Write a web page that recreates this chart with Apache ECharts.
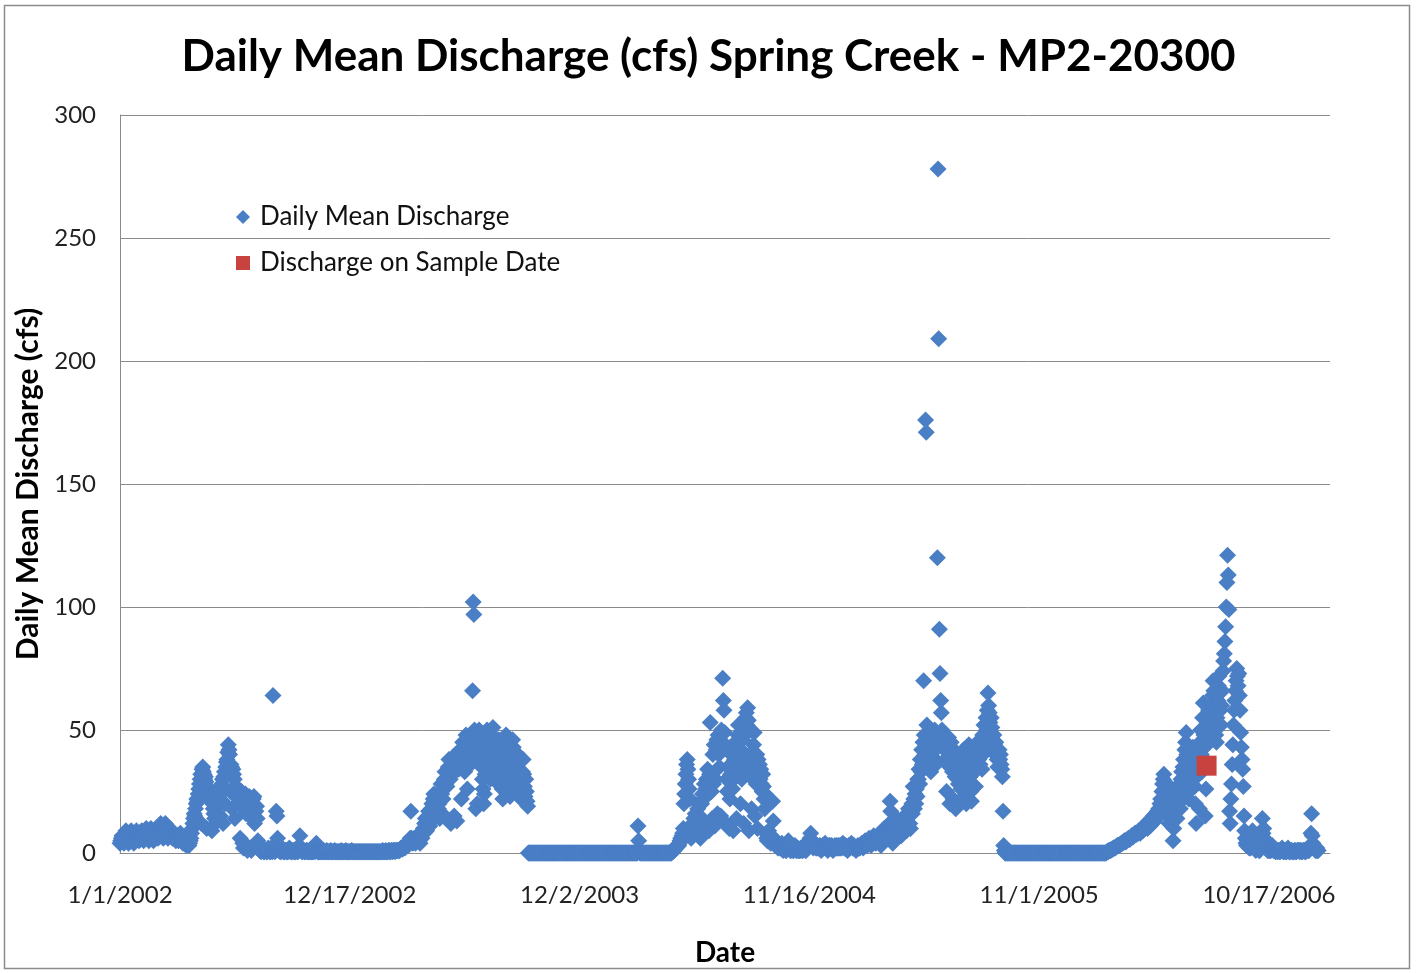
<!DOCTYPE html>
<html>
<head>
<meta charset="utf-8">
<script src="https://cdn.jsdelivr.net/npm/echarts@6/dist/echarts.min.js"></script>
<style>
html,body{margin:0;padding:0;background:#fff;}
#chart{width:1417px;height:973px;}
</style>
</head>
<body>
<div id="chart"></div>
<script>
// ---------- DATA (daily mean discharge, cfs; one inner array per month) ----------
const flow2002 = [
 [4,5,6,7,6,5,4,6,8,9,8,7,5,4,5,7,8,9,8,6,5,4,5,7,8,9,8,7,6,5,6],
 [7,8,9,8,6,5,6,8,9,10,9,7,6,5,7,9,10,9,8,6,5,6,8,9,10,9,7,6],
 [8,10,11,12,11,9,7,6,8,10,12,11,9,7,6,7,9,10,9,8,7,6,7,8,7,6,5,6,7,6,5],
 [6,7,8,7,6,5,4,5,6,5,4,3,4,5,4,3,4,5,6,8,10,12,14,16,15,18,20,22,21,24],
 [26,28,30,32,12,34,35,33,32,30,31,29,10,27,26,25,24,22,23,21,9,20,18,16,14,12,18,20,19,21,23],
 [22,24,15,27,28,30,12,31,33,20,35,37,38,41,44,42,40,25,36,35,18,34,32,30,14,26,27,20,24,22],
 [24,20,6,22,25,18,4,2,20,22,24,16,3,1,19,21,23,15,2,1,18,20,22,23,12,3,17,19,14,5,2],
 [2,1,1,0.5,1,2,1,0.5,0.5,1,1,0.5,0.5,1,2,1,0.5,0.5,1,1,0.5,64,3,1,0.5,2,17,15,6,2,1],
 [1,0.5,0.5,1,2,1,0.5,0.5,0.5,1,1,0.5,0.5,0.5,1,2,1,0.5,0.5,0.5,1,1,0.5,0.5,0.5,1,1,0.5,0.5,1],
 [3,7,2,1,0.5,0.5,1,1,0.5,0.5,0.5,1,1,0.5,0.5,0.5,0.5,1,0.5,0.5,0.5,0.5,1,1,0.5,2,4,1,0.5,0.5,0.5],
 [0.5,0.5,1,0.5,0.5,0.5,1,0.5,0.5,0.5,0.5,1,0.5,0.5,0.5,0.5,0.5,1,0.5,0.5,0.5,0.5,0.5,1,0.5,0.5,0.5,0.5,0.5,0.5],
 [0.5,0.5,0.5,1,0.5,0.5,0.5,0.5,0.5,0.5,1,0.5,0.5,0.5,0.5,0.5,0.5,0.5,0.5,1,0.5,0.5,0.5,0.5,0.5,0.5,0.5,0.5,0.5,0.5,0.5]
];
const flow2003 = [
 [0.5,0.5,0.5,0.5,0.5,0.5,0.5,0.5,0.5,0.5,0.5,0.5,0.5,0.5,0.5,0.5,0.5,0.5,0.5,0.5,0.5,0.5,0.5,0.5,0.5,0.5,0.5,0.5,0.5,0.5,0.5],
 [0.5,0.5,0.5,0.5,1,0.5,0.5,0.5,0.5,1,0.5,0.5,0.5,1,1,0.5,0.5,1,1,0.5,1,1,1,0.5,1,1,1,1],
 [1,1,1,1.5,2,2,1.5,2,2.5,3,2,2.5,3,3.5,4,3,4,5,6,17,6,5,4,5,6,5,4,5,6,7,6],
 [5,6,4,7,8,6,9,10,8,12,14,10,9,13,15,17,12,11,16,18,20,17,22,24,21,19,18,22,20,17],
 [18,20,14,25,28,24,16,22,26,30,33,28,14,27,31,35,38,34,30,12,32,36,39,35,15,33,37,34,13,35,38],
 [34,38,42,36,22,40,45,41,37,33,44,48,43,26,35,40,46,42,38,44,48,66,102,97,50,45,18,38,20,47],
 [45,50,48,42,38,35,30,26,20,24,32,40,46,50,47,43,38,34,30,36,42,48,51,46,41,37,33,29,35,40,44],
 [46,42,38,34,30,26,22,28,34,40,45,48,44,39,35,31,27,23,29,35,41,46,43,38,33,29,25,30,36,40,37],
 [34,30,26,22,28,33,38,32,27,23,30,25,21,19,0,0,0,0,0,0,0,0,0,0,0,0,0,0,0,0],
 [0,0,0,0,0,0,0,0,0,0,0,0,0,0,0,0,0,0,0,0,0,0,0,0,0,0,0,0,0,0,0],
 [0,0,0,0,0,0,0,0,0,0,0,0,0,0,0,0,0,0,0,0,0,0,0,0,0,0,0,0,0,0],
 [0,0,0,0,0,0,0,0,0,0,0,0,0,0,0,0,0,0,0,0,0,0,0,0,0,0,0,0,0,0,0]
];
const flow2004 = [
 [0,0,0,0,0,0,0,0,0,0,0,0,0,0,0,0,0,0,0,0,0,0,0,0,0,0,0,0,0,0,0],
 [0,0,0,0,0,0,0,0,0,0,0,0,0,0,0,0,0,0,0,0,0,0,0,0,0,0,0,0,11],
 [5,1,0,0,0,0,0,0,0,0,0,0,0,0,0,0,0,0,0,0,0,0,0,0,0,0,0,0,0,0,0],
 [0,0,0,0,0,0,0,0,0,0,0,0,0,0,0,0,0,0,0,0,0.5,0.5,1,1,1.5,2,2,3,2.5,3],
 [3,4,5,6,5,7,8,10,20,24,28,32,36,38,34,30,26,22,8,6,10,12,9,14,11,16,13,10,15,18,20],
 [12,15,6,14,20,24,8,22,28,10,26,30,12,34,28,9,32,53,30,25,14,40,28,44,11,30,42,46,16,48],
 [40,35,45,15,50,42,71,62,58,49,44,12,30,25,35,42,10,22,32,40,36,26,9,30,38,45,34,14,40,48,52],
 [45,38,20,42,30,46,53,12,35,48,55,57,52,59,54,9,40,33,50,18,38,30,44,49,15,36,28,40,10,38,32],
 [36,30,34,28,25,32,27,22,18,24,8,6,5,7,9,6,5,4,6,5,21,13,6,4,3,5,4,3,2,3],
 [3,2,2,3,4,2,1,2,3,2,1,1,2,3,5,3,2,1,1,2,2,1,1,2,3,2,1,1,2,1,1],
 [1,1,2,2,1,1,2,3,2,1,1,2,3,4,3,5,6,8,5,4,3,2,3,4,3,2,2,3,2,2],
 [2,3,2,1,2,3,2,2,3,4,3,2,2,1,2,3,3,2,2,3,2,1,2,2,3,2,2,3,2,2,3]
];
const flow2005 = [
 [2,3,2,2,3,4,3,2,2,3,2,2,1,2,3,2,2,3,4,3,2,2,3,2,2,1,2,2,3,2,2],
 [2,3,3,4,3,2,3,4,5,4,3,3,4,5,6,5,4,3,4,5,6,7,6,5,4,5,6,7],
 [6,7,8,6,3,7,9,8,7,10,9,8,7,9,11,10,8,12,21,17,10,9,4,11,13,10,9,12,14,12,11],
 [8,10,12,9,7,11,14,12,10,15,13,11,9,14,16,18,15,12,10,17,20,16,27,22,18,24,20,26,23,30],
 [30,34,28,38,33,42,36,45,70,48,40,176,171,52,46,40,36,44,38,33,42,47,39,35,44,50,42,37,46,120,278],
 [209,91,73,62,57,50,46,44,48,42,38,45,25,36,43,47,39,20,41,45,38,33,22,42,37,31,18,40,34,30],
 [28,35,40,32,26,22,30,38,42,36,29,24,20,27,34,39,44,37,31,25,21,28,35,41,38,33,27,36,42,45,40],
 [38,42,36,45,40,34,48,44,52,47,41,55,50,58,65,60,57,53,49,55,51,46,43,48,44,40,45,42,38,35,40],
 [42,38,40,36,34,31,17,3,1,0,0,0,0,0,0,0,0,0,0,0,0,0,0,0,0,0,0,0,0,0],
 [0,0,0,0,0,0,0,0,0,0,0,0,0,0,0,0,0,0,0,0,0,0,0,0,0,0,0,0,0,0,0],
 [0,0,0,0,0,0,0,0,0,0,0,0,0,0,0,0,0,0,0,0,0,0,0,0,0,0,0,0,0,0],
 [0,0,0,0,0,0,0,0,0,0,0,0,0,0,0,0,0,0,0,0,0,0,0,0,0,0,0,0,0,0,0]
];
const flow2006 = [
 [0,0,0,0,0,0,0,0,0,0,0,0,0,0,0,0,0,0,0,0,0,0,0,0,0,0,0,0,0,0,0],
 [0,0,0,0,0,0,0,0,0,0,0,0.5,0.5,0.5,1,1,1,1,1.5,1.5,1.5,2,2,2,2,2.5,2.5,3],
 [3,3,3,3.5,3.5,4,4,4,4.5,4.5,5,5,4.5,5,5.5,5.5,6,6,5.5,6,6.5,7,7,6.5,7,7.5,8,8,7.5,8,8.5],
 [8,9,9,8,9,10,10,9,10,11,10,11,12,11,10,12,13,12,11,13,14,12,13,15,14,13,16,15,14,17],
 [16,18,15,20,22,19,25,28,30,32,26,22,18,24,28,20,15,12,18,22,26,20,14,5,10,16,22,25,19,14,18],
 [20,24,28,18,30,33,25,35,38,30,42,45,49,40,34,28,22,36,40,32,26,38,43,35,30,27,20,12,34,38],
 [42,36,18,45,50,40,33,55,61,48,38,15,26,35.5,44,52,58,55,50,47,54,60,64,70,66,58,52,48,45,55,62],
 [68,72,65,58,52,60,66,74,78,81,86,92,100,110,121,113,99,17,12,22,28,36,44,52,58,62,66,70,75,72,68],
 [73,64,58,49,43,38,34,27,15,9,6,4,3,5,4,3,2,3,2,4,6,9,5,3,2,2,1,2,3,2],
 [2,1,1,2,3,5,14,8,10,6,4,3,2,2,1,1,2,1,1,1,2,3,2,1,1,1,0.5,1,1,0.5,1],
 [1,0.5,0.5,1,1,2,1,0.5,0.5,1,1,0.5,0.5,1,2,1,0.5,0.5,0.5,1,1,0.5,0.5,0.5,1,1,0.5,0.5,1,1],
 [1,1,0.5,1,1,0.5,0.5,1,1,1,0.5,0.5,1,1,2,1,1,2,3,8,16,7,4,3,2,2,1,1,2,1,1]
];
const flowYears = [2002, 2003, 2004, 2005, 2006];
const sampleDates = ['2006-07-14'];
const sampleValues = [35.5];
const xTickLabels = ['1/1/2002','12/17/2002','12/2/2003','11/16/2004','11/1/2005','10/17/2006'];

// ---------- BUILD ----------
const DAY = 86400000;
const T0 = Date.UTC(2002, 0, 1);
const dailyPoints = [];
[flow2002, flow2003, flow2004, flow2005, flow2006].forEach((months, yi) => {
  const yr = flowYears[yi];
  months.forEach((arr, m) => arr.forEach((v, i) => {
    dailyPoints.push([(Date.UTC(yr, m, i + 1) - T0) / DAY, v]);
  }));
});
const samplePoints = sampleDates.map((s, i) => {
  const p = s.split('-').map(Number);
  return [(Date.UTC(p[0], p[1] - 1, p[2]) - T0) / DAY, sampleValues[i]];
});

const FONT = 'Lato, "Open Sans", "DejaVu Sans", sans-serif';
const BLUE = '#4a7fc6';
const RED = '#c8423f';
const GRID = '#8a8a8a';

const chart = echarts.init(document.getElementById('chart'), null, {renderer: 'canvas'});
chart.setOption({
  backgroundColor: '#ffffff',
  animation: false,
  textStyle: {fontFamily: FONT},
  title: {
    text: 'Daily Mean Discharge (cfs) Spring Creek - MP2-20300',
    left: 'center',
    top: 30,
    textStyle: {fontFamily: FONT, fontSize: 44, fontWeight: 'bold', color: '#000'}
  },
  legend: {
    orient: 'vertical',
    left: 231,
    top: 199,
    itemWidth: 14,
    itemHeight: 14,
    itemGap: 20,
    textStyle: {fontFamily: FONT, fontSize: 26, color: '#111', lineHeight: 26, padding: [0, 0, 0, 5]},
    data: [
      {name: 'Daily Mean Discharge', icon: 'diamond'},
      {name: 'Discharge on Sample Date', icon: 'rect'}
    ]
  },
  grid: {left: 120, right: 87, top: 115, bottom: 120, containLabel: false},
  xAxis: {
    type: 'value',
    min: 0,
    max: 1843,
    interval: 350,
    name: 'Date',
    nameLocation: 'middle',
    nameGap: 86,
    nameTextStyle: {fontFamily: FONT, fontSize: 28, fontWeight: 'bold', color: '#000'},
    axisLine: {show: true, lineStyle: {color: GRID, width: 1}},
    axisTick: {show: false},
    splitLine: {show: false},
    axisLabel: {
      fontFamily: FONT, fontSize: 24, color: '#222', margin: 30,
      showMaxLabel: false,
      formatter: function (v) {
        const k = v / 350;
        return (Number.isInteger(k) && k < xTickLabels.length) ? xTickLabels[k] : '';
      }
    }
  },
  yAxis: {
    type: 'value',
    min: 0,
    max: 300,
    interval: 50,
    name: 'Daily Mean Discharge (cfs)',
    nameLocation: 'middle',
    nameRotate: 90,
    nameGap: 76,
    nameTextStyle: {fontFamily: FONT, fontSize: 30, fontWeight: 'bold', color: '#000'},
    axisLine: {show: true, lineStyle: {color: GRID, width: 1}},
    axisTick: {show: false},
    splitLine: {show: true, lineStyle: {color: GRID, width: 1}},
    axisLabel: {fontFamily: FONT, fontSize: 24, color: '#222', margin: 24}
  },
  series: [
    {
      name: 'Daily Mean Discharge',
      type: 'scatter',
      symbol: 'diamond',
      symbolSize: 17,
      itemStyle: {color: BLUE, opacity: 1},
      data: dailyPoints,
      z: 2
    },
    {
      name: 'Discharge on Sample Date',
      type: 'scatter',
      symbol: 'rect',
      symbolSize: 20,
      itemStyle: {color: RED, opacity: 1},
      data: samplePoints,
      z: 3
    }
  ],
  graphic: [{
    type: 'rect',
    silent: true,
    shape: {x: 4.5, y: 5.5, width: 1405, height: 963},
    style: {fill: 'none', stroke: '#8c8c8c', lineWidth: 1.5},
    z: 100
  }]
});
</script>
</body>
</html>
